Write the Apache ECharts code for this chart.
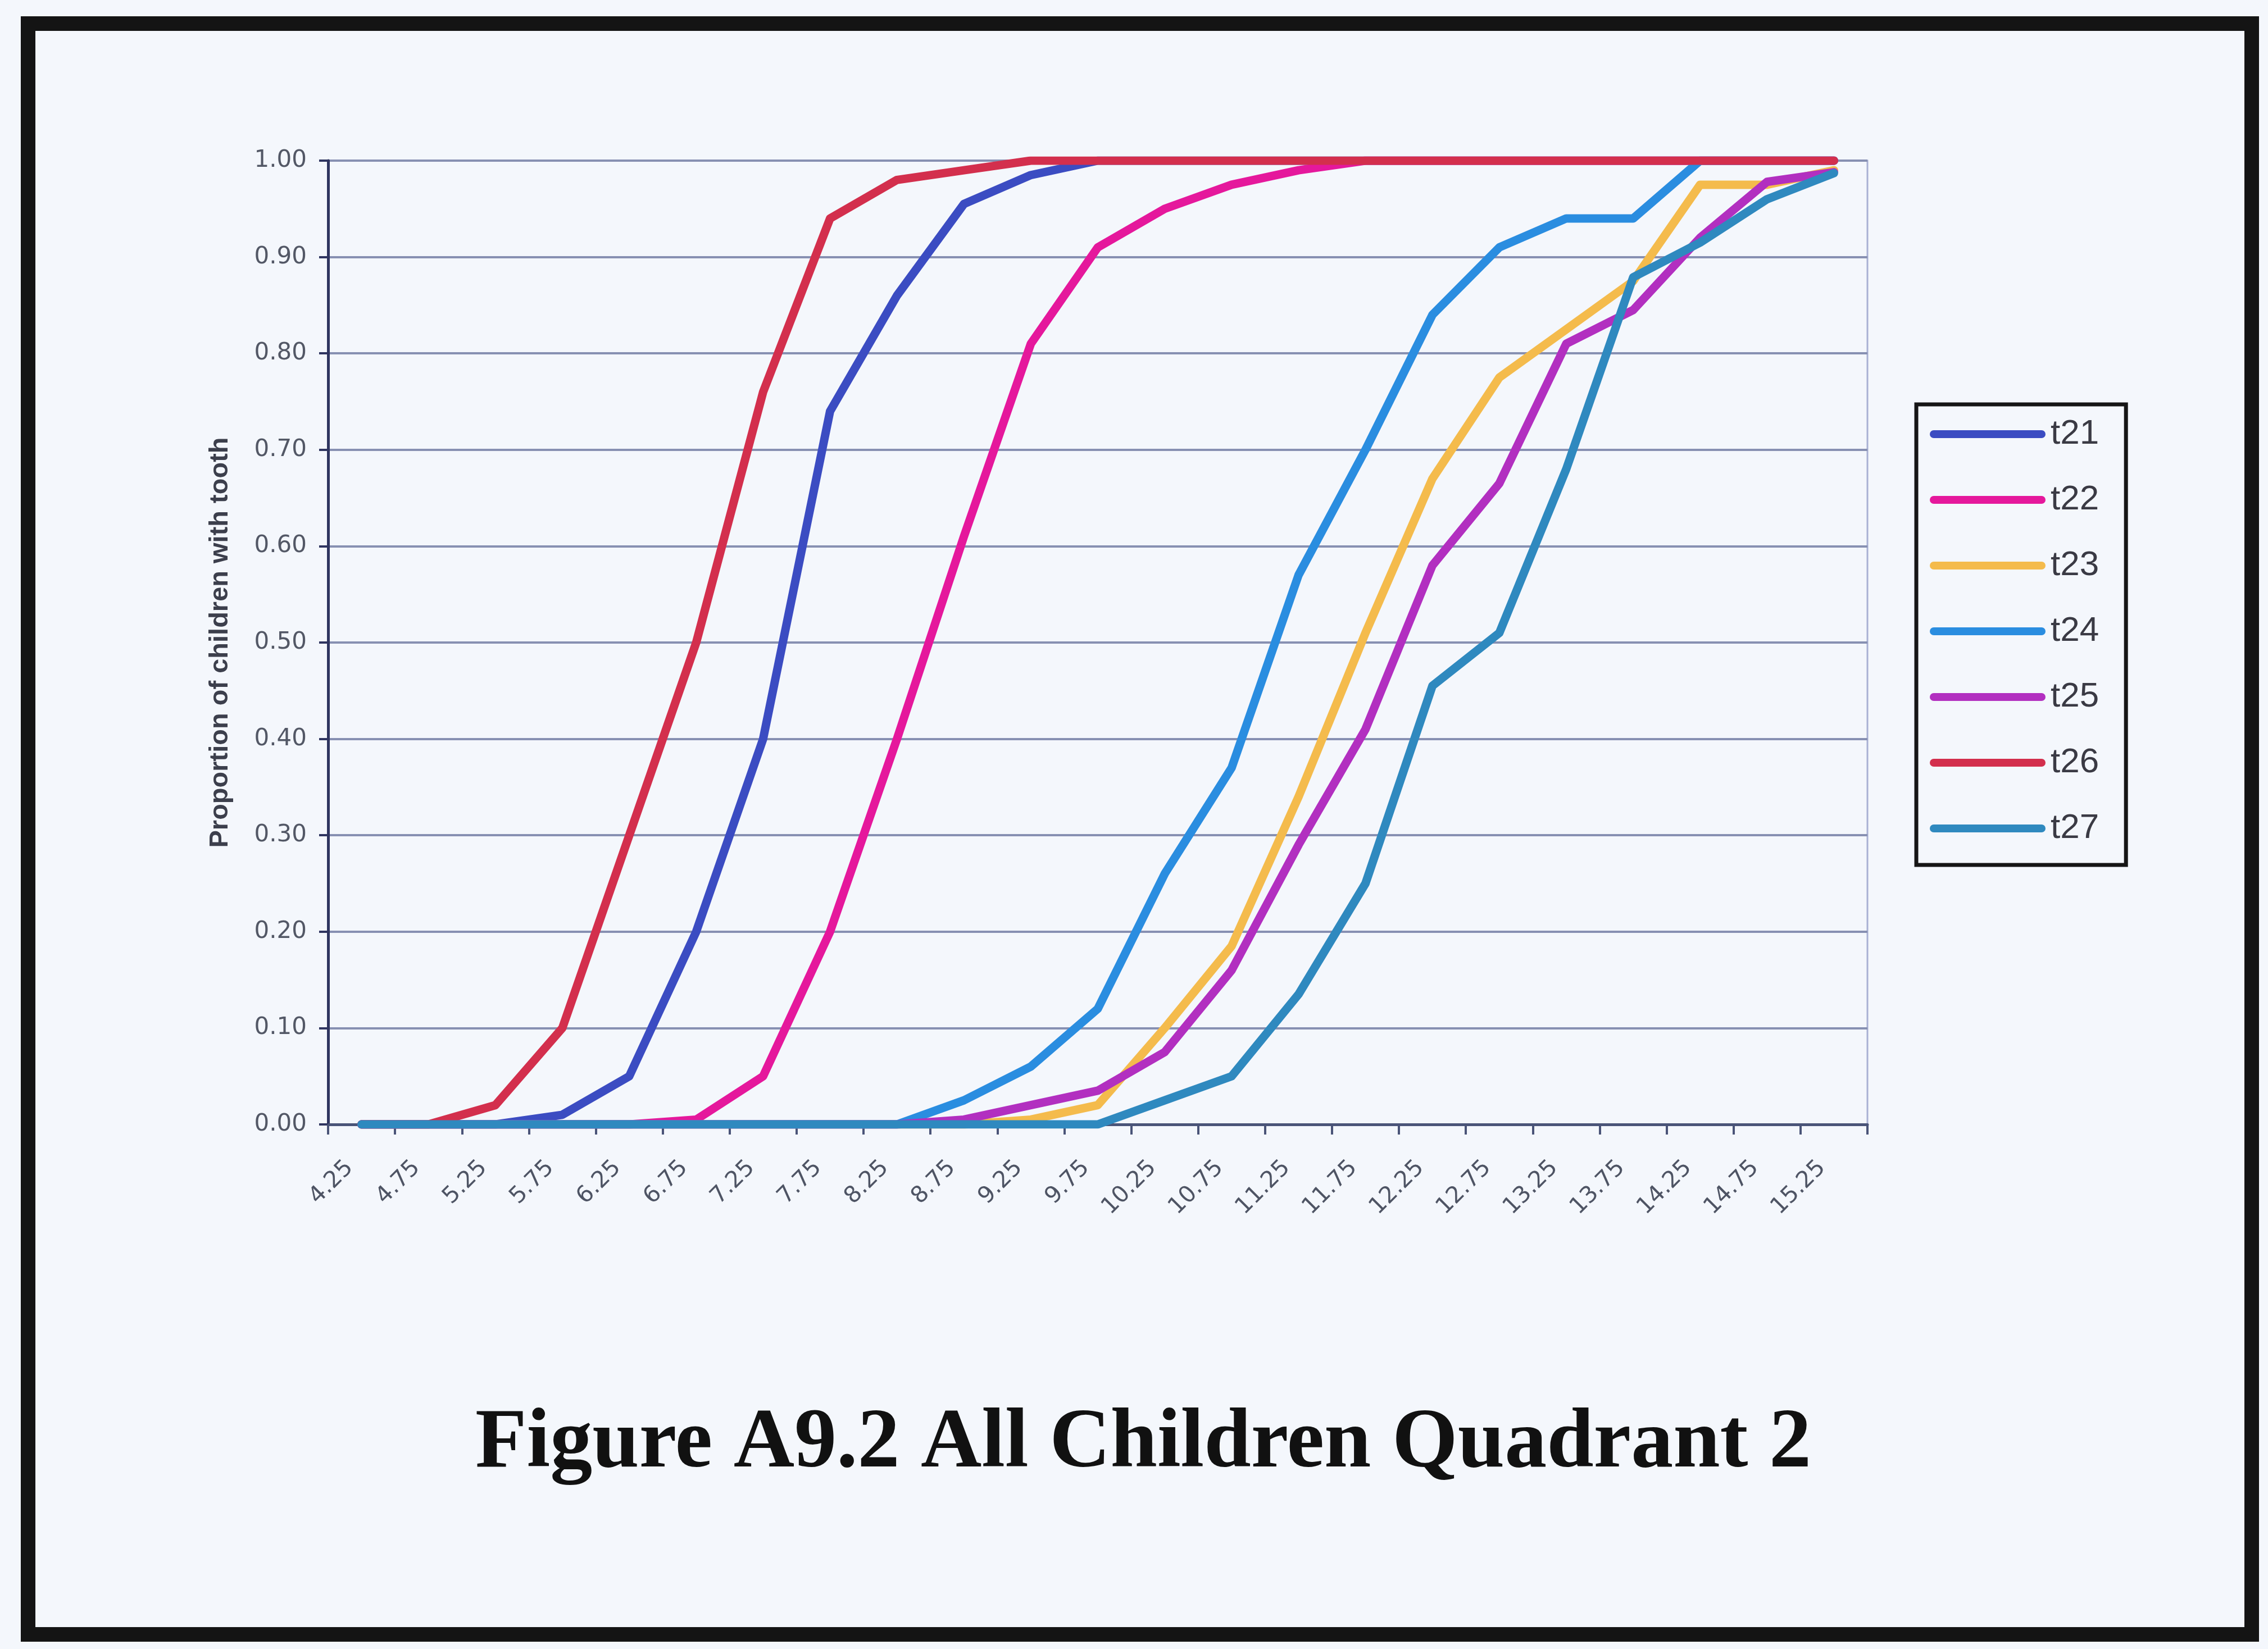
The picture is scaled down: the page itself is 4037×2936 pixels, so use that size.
<!DOCTYPE html>
<html>
<head>
<meta charset="utf-8">
<script src="https://cdn.jsdelivr.net/npm/echarts@6/dist/echarts.min.js"></script>
<style>
  html, body { margin: 0; padding: 0; background: #ffffff; }
  #chart { width: 4037px; height: 2936px; }
</style>
</head>
<body>
<div id="chart"></div>
<script>
// ---- data ----
const categories = ['4.25','4.75','5.25','5.75','6.25','6.75','7.25','7.75','8.25','8.75','9.25','9.75',
  '10.25','10.75','11.25','11.75','12.25','12.75','13.25','13.75','14.25','14.75','15.25'];
const yTicks = [0, 0.1, 0.2, 0.3, 0.4, 0.5, 0.6, 0.7, 0.8, 0.9, 1.0];
const seriesNames = ['t21','t22','t23','t24','t25','t26','t27'];
const t21 = [0, 0, 0, 0.01, 0.05, 0.20, 0.40, 0.74, 0.86, 0.955, 0.985, 1, 1, 1, 1, 1, 1, 1, 1, 1, 1, 1, 1];
const t22 = [0, 0, 0, 0, 0, 0.005, 0.05, 0.20, 0.40, 0.61, 0.81, 0.91, 0.95, 0.975, 0.99, 1, 1, 1, 1, 1, 1, 1, 1];
const t23 = [0, 0, 0, 0, 0, 0, 0, 0, 0, 0, 0.005, 0.02, 0.10, 0.185, 0.34, 0.51, 0.67, 0.775, 0.825, 0.875, 0.975, 0.975, 0.99];
const t24 = [0, 0, 0, 0, 0, 0, 0, 0, 0, 0.025, 0.06, 0.12, 0.26, 0.37, 0.57, 0.70, 0.84, 0.91, 0.94, 0.94, 1, 1, 1];
const t25 = [0, 0, 0, 0, 0, 0, 0, 0, 0, 0.005, 0.02, 0.035, 0.075, 0.16, 0.29, 0.41, 0.58, 0.665, 0.81, 0.845, 0.92, 0.978, 0.988];
const t26 = [0, 0, 0.02, 0.10, 0.30, 0.50, 0.76, 0.94, 0.98, 0.99, 1, 1, 1, 1, 1, 1, 1, 1, 1, 1, 1, 1, 1];
const t27 = [0, 0, 0, 0, 0, 0, 0, 0, 0, 0, 0, 0, 0.025, 0.05, 0.135, 0.25, 0.455, 0.51, 0.68, 0.879, 0.915, 0.96, 0.987];
const seriesValues = [t21, t22, t23, t24, t25, t26, t27];
const seriesColors = ['#3b4cc2', '#e5189c', '#f4bb4c', '#2a8de0', '#b22fc0', '#d32f4d', '#2f89bf'];
const titleText = 'Figure A9.2 All Children Quadrant 2';
const yAxisName = 'Proportion of children with tooth';

const chart = echarts.init(document.getElementById('chart'), null, { renderer: 'canvas' });

const legendIcon = 'path://M7,0 L199,0 A7,7 0 0 1 199,14 L7,14 A7,7 0 0 1 7,0 Z';

const option = {
  backgroundColor: '#f4f7fc',
  animation: false,
  legend: {
    orient: 'vertical',
    left: 3411,
    top: 720,
    data: seriesNames.map(n => ({ name: n, icon: legendIcon })),
    itemWidth: 206,
    itemHeight: 15,
    itemGap: 55,
    padding: [22, 48, 34, 24],
    borderColor: '#161616',
    borderWidth: 7,
    backgroundColor: '#f4f7fc',
    textStyle: {
      fontFamily: 'Liberation Sans',
      fontSize: 62,
      color: '#3a3a44',
      padding: [0, 0, 0, 4]
    }
  },
  grid: {
    left: 584,
    top: 286,
    right: 4037 - 3324,
    bottom: 2936 - 2002,
    show: true,
    borderColor: '#a9b1d3',
    borderWidth: 3,
    backgroundColor: 'transparent'
  },
  xAxis: {
    type: 'category',
    data: categories,
    boundaryGap: true,
    axisLine: { lineStyle: { color: '#4a5478', width: 5 } },
    axisTick: { show: true, interval: 0, length: 18, lineStyle: { color: '#4a5478', width: 4 } },
    axisLabel: {
      interval: 0,
      rotate: 45,
      margin: 50,
      fontFamily: 'DejaVu Sans',
      fontSize: 41,
      color: '#4e5464',
      padding: [0, 30, 0, 0]
    },
    splitLine: { show: false }
  },
  yAxis: {
    type: 'value',
    min: 0,
    max: 1,
    interval: 0.1,
    name: yAxisName,
    nameLocation: 'middle',
    nameGap: 168,
    nameTextStyle: {
      fontFamily: 'Liberation Sans',
      fontWeight: 'bold',
      fontSize: 47,
      color: '#3c3f4c'
    },
    axisLine: { show: true, lineStyle: { color: '#2f3560', width: 5 } },
    axisTick: { show: true, length: 16, lineStyle: { color: '#2f3560', width: 4 } },
    axisLabel: {
      margin: 38,
      fontFamily: 'DejaVu Sans',
      fontSize: 42,
      color: '#535866',
      formatter: v => v.toFixed(2)
    },
    splitLine: { show: true, lineStyle: { color: '#8790b2', width: 4 } }
  },
  series: seriesNames.map((name, k) => ({
    name: name,
    type: 'line',
    data: seriesValues[k],
    symbol: 'none',
    smooth: false,
    color: seriesColors[k],
    itemStyle: { color: seriesColors[k] },
    lineStyle: { width: 15, color: seriesColors[k], cap: 'round', join: 'round' }
  })),
  graphic: [
    {
      type: 'text',
      silent: true,
      left: null,
      x: 2035,
      y: 2572,
      style: {
        text: titleText,
        fontFamily: 'Liberation Serif',
        fontWeight: 'bold',
        fontSize: 150,
        fill: '#111111',
        textAlign: 'center',
        textVerticalAlign: 'middle'
      }
    },
    {
      type: 'rect',
      silent: true,
      z: 100,
      shape: { x: 50, y: 42, width: 3958, height: 2868 },
      style: { fill: 'none', stroke: '#141414', lineWidth: 26 }
    }
  ]
};

chart.setOption(option);
</script>
</body>
</html>
